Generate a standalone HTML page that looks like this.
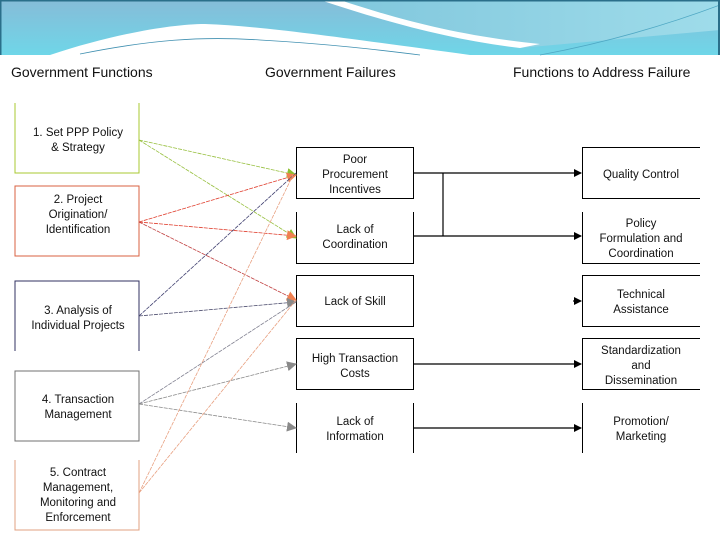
<!DOCTYPE html>
<html><head><meta charset="utf-8"><style>
html,body{margin:0;padding:0;background:#fff;}
svg{display:block}
text{font-family:"Liberation Sans",Arial,sans-serif;}
</style></head><body>
<svg width="720" height="540" viewBox="0 0 720 540" xmlns="http://www.w3.org/2000/svg">
<defs>
<linearGradient id="hg" x1="0" y1="0" x2="0" y2="1">
<stop offset="0" stop-color="#86bcd8"/><stop offset="1" stop-color="#6fd6e8"/></linearGradient>
<linearGradient id="hg2" x1="0" y1="0" x2="1" y2="0">
<stop offset="0" stop-color="#7fc6dc"/><stop offset="1" stop-color="#9fdcea"/></linearGradient>
<marker id="ab" markerWidth="8" markerHeight="8" refX="7" refY="4" orient="auto" markerUnits="userSpaceOnUse"><path d="M0,0 L8,4 L0,8z" fill="#000"/></marker>
<marker id="ag" markerWidth="10" markerHeight="10" refX="9" refY="5" orient="auto" markerUnits="userSpaceOnUse"><path d="M0,0 L10,5 L0,10z" fill="#8a8a8a"/></marker>
<marker id="ao" markerWidth="10" markerHeight="10" refX="9" refY="5" orient="auto" markerUnits="userSpaceOnUse"><path d="M0,0 L10,5 L0,10z" fill="#f08050"/></marker>
<marker id="agr" markerWidth="10" markerHeight="10" refX="9" refY="5" orient="auto" markerUnits="userSpaceOnUse"><path d="M0,0 L10,5 L0,10z" fill="#8cc030"/></marker>
</defs>
<!-- header -->
<rect x="0" y="0" width="720" height="55" fill="url(#hg)"/>
<path d="M320,0 C380,20 450,40 520,48 L720,30 L720,0z" fill="url(#hg2)"/>
<path d="M320,0 L340,0 C400,20 460,36 540,44 L520,48 C450,40 380,20 320,0z" fill="#fff"/>
<path d="M50,55 C110,35 170,24 205,24 C260,26 330,36 470,55z" fill="#fff"/>
<path d="M80,54 C150,40 200,36 260,40 C330,44 380,50 420,55" fill="none" stroke="#3f8fb0" stroke-width="0.8"/>
<path d="M540,55 C620,40 680,20 720,5" fill="none" stroke="#4fa8c4" stroke-width="0.8"/>
<rect x="0" y="0" width="720" height="1.5" fill="#2a6f8a"/>
<rect x="0" y="0" width="1.5" height="55" fill="#2a6f8a"/>
<rect x="718" y="0" width="2" height="55" fill="#2a6f8a"/>

<!-- headings -->
<g font-size="14" fill="#111">
<text x="11" y="77">Government Functions</text>
<text x="265" y="77">Government Failures</text>
<text x="513" y="77">Functions to Address Failure</text>
</g>

<!-- left boxes -->
<g fill="none" stroke-width="1">
<path d="M15,103 V173 H139 V103" stroke="#a8c830"/>
<rect x="15" y="186" width="124" height="70" stroke="#d86040"/>
<path d="M15,351 V281 H139 V351" stroke="#303060"/>
<rect x="15" y="371" width="124" height="70" stroke="#707070"/>
<path d="M15,460 V530 H139 V460" stroke="#e0a080"/>
</g>
<g font-size="11.5" fill="#111" text-anchor="middle">
<text x="78" y="136">1. Set PPP Policy</text><text x="78" y="151">&amp; Strategy</text>
<text x="78" y="203">2.  Project</text><text x="78" y="218">Origination/</text><text x="78" y="233">Identification</text>
<text x="78" y="314">3. Analysis of</text><text x="78" y="329">Individual Projects</text>
<text x="78" y="403">4. Transaction</text><text x="78" y="418">Management</text>
<text x="78" y="476">5. Contract</text><text x="78" y="491">Management,</text><text x="78" y="506">Monitoring and</text><text x="78" y="521">Enforcement</text>
</g>

<!-- middle boxes -->
<g fill="none" stroke="#000" stroke-width="1">
<rect x="296.5" y="147.5" width="117" height="51"/>
<path d="M296.5,212 V263.5 H413.5 V212"/>
<rect x="296.5" y="275.5" width="117" height="51"/>
<rect x="296.5" y="338.5" width="117" height="51"/>
<path d="M296.5,403 V453 M413.5,403 V453"/>
</g>
<g font-size="11.5" fill="#111" text-anchor="middle">
<text x="355" y="163">Poor</text><text x="355" y="178">Procurement</text><text x="355" y="193">Incentives</text>
<text x="355" y="233">Lack of</text><text x="355" y="248">Coordination</text>
<text x="355" y="305">Lack of Skill</text>
<text x="355" y="362">High Transaction</text><text x="355" y="377">Costs</text>
<text x="355" y="425">Lack of</text><text x="355" y="440">Information</text>
</g>

<!-- right boxes -->
<g fill="none" stroke="#000" stroke-width="1">
<path d="M700,147.5 H582.5 V198.5 H700"/>
<path d="M582.5,212 V263.5 H700"/>
<path d="M700,275.5 H582.5 V326.5 H700"/>
<path d="M700,338.5 H582.5 V389.5 H700"/>
<path d="M582.5,403 V453"/>
</g>
<g font-size="11.5" fill="#111" text-anchor="middle">
<text x="641" y="178">Quality Control</text>
<text x="641" y="227">Policy</text><text x="641" y="242">Formulation and</text><text x="641" y="257">Coordination</text>
<text x="641" y="298">Technical</text><text x="641" y="313">Assistance</text>
<text x="641" y="354">Standardization</text><text x="641" y="369">and</text><text x="641" y="384">Dissemination</text>
<text x="641" y="425">Promotion/</text><text x="641" y="440">Marketing</text>
</g>

<!-- right connectors -->
<g stroke="#000" stroke-width="1.2" fill="none">
<line x1="413" y1="173" x2="581" y2="173" marker-end="url(#ab)"/>
<line x1="443" y1="173" x2="443" y2="236"/>
<line x1="413" y1="236" x2="581" y2="236" marker-end="url(#ab)"/>
<line x1="573" y1="301" x2="581" y2="301" marker-end="url(#ab)"/>
<line x1="413" y1="364" x2="581" y2="364" marker-end="url(#ab)"/>
<line x1="413" y1="428" x2="581" y2="428" marker-end="url(#ab)"/>
</g>

<!-- left connectors -->
<g fill="none" stroke-width="0.8" stroke-dasharray="4,1">
<line x1="139" y1="140" x2="296" y2="175" stroke="#98c040" marker-end="url(#agr)"/>
<line x1="139" y1="140" x2="296" y2="238" stroke="#98c040" marker-end="url(#agr)"/>
<line x1="139" y1="222" x2="296" y2="175" stroke="#e04030" marker-end="url(#ao)"/>
<line x1="139" y1="222" x2="296" y2="236" stroke="#e04030" marker-end="url(#ao)"/>
<line x1="139" y1="222" x2="296" y2="300" stroke="#c04040" marker-end="url(#ao)"/>
<line x1="139" y1="316" x2="296" y2="173" stroke="#404070"/>
<line x1="139" y1="316" x2="296" y2="302" stroke="#505070" marker-end="url(#ag)"/>
<line x1="139" y1="404" x2="296" y2="302" stroke="#808090"/>
<line x1="139" y1="404" x2="296" y2="364" stroke="#8a8a8a" marker-end="url(#ag)"/>
<line x1="139" y1="404" x2="296" y2="428" stroke="#8a8a8a" marker-end="url(#ag)"/>
<line x1="139" y1="493" x2="293" y2="175" stroke="#e8a080"/>
<line x1="139" y1="493" x2="296" y2="300" stroke="#e8a080"/>
</g>
</svg>
</body></html>
